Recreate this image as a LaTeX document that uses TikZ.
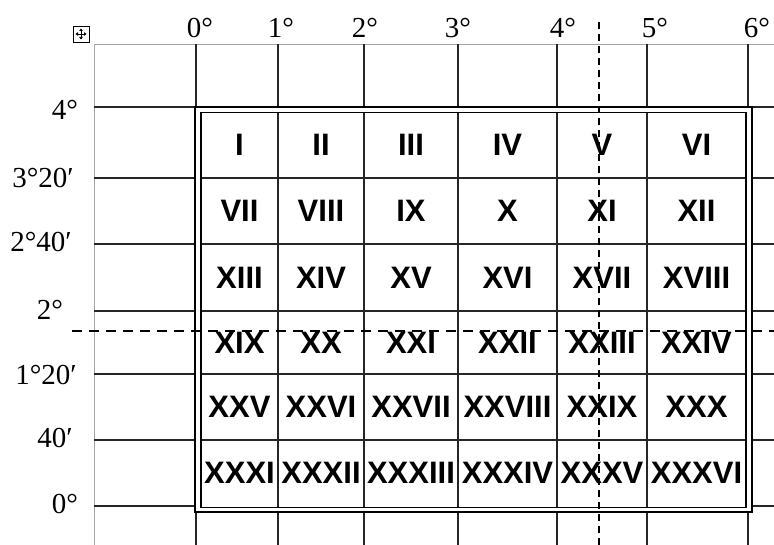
\documentclass[tikz,border=0pt]{standalone}
\usepackage{fontspec}
\setmainfont{Liberation Serif}
\newfontfamily\numfont{Liberation Sans}
\usetikzlibrary{arrows.meta}
\begin{document}
\begin{tikzpicture}[x=1pt,y=-1pt,
  gridline/.style={line width=1.3pt, black!85},
  faint/.style={line width=0.9pt, black!35},
  outerframe/.style={line width=2.4pt, black},
  innerframe/.style={line width=1.7pt, black},
  vcut/.style={line width=2.4pt, dash pattern=on 7pt off 5pt},
  hcut/.style={line width=2.1pt, dash pattern=on 10pt off 7pt},
  cell/.style={font=\numfont\bfseries\fontsize{31}{31}\selectfont, inner sep=0pt},
  axis/.style={font=\fontsize{29}{29}\selectfont, inner sep=0pt},
  handle/.style={line width=0.9pt, black}]
\useasboundingbox (0,0) rectangle (774,545);

% outer guide lines of the table
\draw[faint] (94,44) -- (774,44);
\draw[faint] (94,44) -- (94,545);

% vertical lines above and below the frame
\foreach \x in {196,278,364,458,557,647,748} {
  \draw[gridline] (\x,44) -- (\x,107);
  \draw[gridline] (\x,512) -- (\x,545);
}
% horizontal lines left and right of the frame
\foreach \y in {107,178,244,311,374,440,506} {
  \draw[gridline] (94,\y) -- (195,\y);
  \draw[gridline] (752,\y) -- (774,\y);
}
% inner grid
\foreach \x in {278,364,458,557,647} \draw[gridline] (\x,112) -- (\x,508);
\foreach \y in {178,244,311,374,440} \draw[gridline] (201,\y) -- (746,\y);

% double frame
\draw[outerframe] (195,107) rectangle (752,512);
\draw[innerframe] (201,112.5) rectangle (746,507.5);

% move handle
\draw[handle] (73,26) rectangle (89,42);
\draw[handle, {Triangle[length=2.5pt,width=3.5pt]}-{Triangle[length=2.5pt,width=3.5pt]}] (81,28.5) -- (81,39.5);
\draw[handle, {Triangle[length=2.5pt,width=3.5pt]}-{Triangle[length=2.5pt,width=3.5pt]}] (75.5,34) -- (86.5,34);

% top axis labels
\node[axis, anchor=base] (t0) at (200,38) {0°};
\node[axis, anchor=base] (t1) at (281,38) {1°};
\node[axis, anchor=base] (t2) at (365,38) {2°};
\node[axis, anchor=base] (t3) at (458,38) {3°};
\node[axis, anchor=base] (t4) at (563,38) {4°};
\node[axis, anchor=base] (t5) at (655,38) {5°};
\node[axis, anchor=base] (t6) at (757,38) {6°};

% left axis labels
\node[axis] (l0) at (65,110) {4°};
\node[axis] (l1) at (43,178) {3°20′};
\node[axis] (l2) at (41,242) {2°40′};
\node[axis] (l3) at (50,310) {2°};
\node[axis] (l4) at (46,375) {1°20′};
\node[axis] (l5) at (55,438) {40′};
\node[axis] (l6) at (65,504) {0°};

% cells
\node[cell] (c1) at (239.5,145) {I};
\node[cell] (c2) at (321,145) {II};
\node[cell] (c3) at (411,145) {III};
\node[cell] (c4) at (507.5,145) {IV};
\node[cell] (c5) at (602,145) {V};
\node[cell] (c6) at (696.5,145) {VI};

\node[cell] (c7) at (239.5,211) {VII};
\node[cell] (c8) at (321,211) {VIII};
\node[cell] (c9) at (411,211) {IX};
\node[cell] (c10) at (507.5,211) {X};
\node[cell] (c11) at (602,211) {XI};
\node[cell] (c12) at (696.5,211) {XII};

\node[cell] (c13) at (239.5,277.5) {XIII};
\node[cell] (c14) at (321,277.5) {XIV};
\node[cell] (c15) at (411,277.5) {XV};
\node[cell] (c16) at (507.5,277.5) {XVI};
\node[cell] (c17) at (602,277.5) {XVII};
\node[cell] (c18) at (696.5,277.5) {XVIII};

\node[cell] (c19) at (239.5,342.5) {XIX};
\node[cell] (c20) at (321,342.5) {XX};
\node[cell] (c21) at (411,342.5) {XXI};
\node[cell] (c22) at (507.5,342.5) {XXII};
\node[cell] (c23) at (602,342.5) {XXIII};
\node[cell] (c24) at (696.5,342.5) {XXIV};

\node[cell] (c25) at (239.5,407) {XXV};
\node[cell] (c26) at (321,407) {XXVI};
\node[cell] (c27) at (411,407) {XXVII};
\node[cell] (c28) at (507.5,407) {XXVIII};
\node[cell] (c29) at (602,407) {XXIX};
\node[cell] (c30) at (696.5,407) {XXX};

\node[cell] (c31) at (239.5,473) {XXXI};
\node[cell] (c32) at (321,473) {XXXII};
\node[cell] (c33) at (411,473) {XXXIII};
\node[cell] (c34) at (507.5,473) {XXXIV};
\node[cell] (c35) at (602,473) {XXXV};
\node[cell] (c36) at (696.5,473) {XXXVI};

% cutting lines
\coordinate (vtop) at (599,22);
\coordinate (vbot) at (599,545);
\coordinate (hleft) at (72,331);
\coordinate (hright) at (774,331);
\draw[vcut] (vtop) -- (vbot);
\draw[hcut] (hleft) -- (hright);
\end{tikzpicture}
\end{document}
